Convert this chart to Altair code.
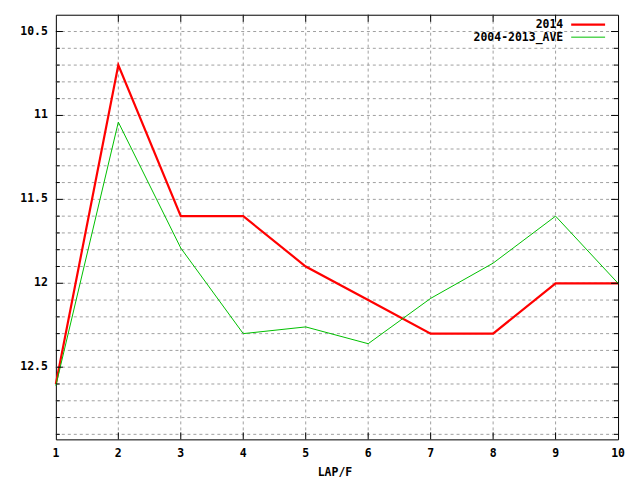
import altair as alt
import pandas as pd

# ---- data ----
laps = [1, 2, 3, 4, 5, 6, 7, 8, 9, 10]
s2014 = [12.6, 10.7, 11.6, 11.6, 11.9, 12.1, 12.3, 12.3, 12.0, 12.0]
s_ave = [12.61, 11.04, 11.79, 12.3, 12.26, 12.36, 12.09, 11.88, 11.6, 12.0]
series_names = ["2014", "2004-2013_AVE"]
series_colors = ["#ff0000", "#00c000"]
y_grid = [10.5, 10.6, 10.7, 10.8, 10.9, 11.0, 11.1, 11.2, 11.3, 11.4,
          11.5, 11.6, 11.7, 11.8, 11.9, 12.0, 12.1, 12.2, 12.3, 12.4, 12.5,
          12.6, 12.7, 12.8, 12.9]
y_major = [10.5, 11.0, 11.5, 12.0, 12.5]
y_labels = ["10.5", "11", "11.5", "12", "12.5"]
x_labels = ["1", "2", "3", "4", "5", "6", "7", "8", "9", "10"]
x_title = "LAP/F"

W, H = 564, 426
FONT = "DejaVu Sans Mono"
FS = 11.5
GRID = "#a0a0a0"

df_2014 = pd.DataFrame({"lap": laps, "t": s2014})
df_ave = pd.DataFrame({"lap": laps, "t": s_ave})
df_ygrid = pd.DataFrame({"t": y_grid})
df_ymin = pd.DataFrame({"t": [v for v in y_grid if v not in y_major]})
df_ymaj = pd.DataFrame({"t": y_major, "lab": y_labels})
df_xlab = pd.DataFrame({"lap": laps, "lab": x_labels})
df_x = pd.DataFrame({"lap": laps[1:-1]})

xs = alt.Scale(domain=[1, 10], nice=False, zero=False)
ys = alt.Scale(domain=[10.4, 12.93], reverse=True, nice=False, zero=False)

XE = alt.X("lap:Q", scale=xs, axis=None)
YE = alt.Y("t:Q", scale=ys, axis=None)

# grid lines (dotted gray)
grid_y = alt.Chart(df_ygrid).mark_rule(color=GRID, strokeDash=[3, 3], strokeWidth=1).encode(
    y=YE, x=alt.value(0), x2=alt.value(W))
grid_x = alt.Chart(df_x).mark_rule(color=GRID, strokeDash=[3, 3], strokeWidth=1).encode(
    x=XE, y=alt.value(0), y2=alt.value(H))

line_2014 = alt.Chart(df_2014).mark_line(color=series_colors[0], strokeWidth=2.2).encode(
    x=XE, y=YE)
line_ave = alt.Chart(df_ave).mark_line(color=series_colors[1], strokeWidth=1).encode(
    x=XE, y=YE)

# inward ticks (gnuplot style), mirrored on all sides
tick_l_min = alt.Chart(df_ymin).mark_rule(color="black").encode(
    y=YE, x=alt.value(0), x2=alt.value(4))
tick_r_min = alt.Chart(df_ymin).mark_rule(color="black").encode(
    y=YE, x=alt.value(W - 4), x2=alt.value(W))
tick_l_maj = alt.Chart(df_ymaj).mark_rule(color="black").encode(
    y=YE, x=alt.value(0), x2=alt.value(7))
tick_r_maj = alt.Chart(df_ymaj).mark_rule(color="black").encode(
    y=YE, x=alt.value(W - 7), x2=alt.value(W))
tick_b = alt.Chart(df_x).mark_rule(color="black").encode(
    x=XE, y=alt.value(H - 7), y2=alt.value(H))
tick_t = alt.Chart(df_x).mark_rule(color="black").encode(
    x=XE, y=alt.value(0), y2=alt.value(7))

# tick labels and axis title
txt = dict(font=FONT, fontWeight="bold", fontSize=FS, color="black")
ylab = alt.Chart(df_ymaj).mark_text(align="right", baseline="middle", **txt).encode(
    y=YE, x=alt.value(-8), text="lab:N")
xlab = alt.Chart(df_xlab).mark_text(align="center", baseline="middle", **txt).encode(
    x=XE, y=alt.value(H + 14.5), text="lab:N")
xtitle = alt.Chart(pd.DataFrame({"s": [x_title]})).mark_text(
    align="center", baseline="middle", **txt).encode(
    x=alt.value(W / 2 - 2), y=alt.value(H + 34), text="s:N")

# legend (top right, gnuplot style: label then sample)
leg_txt1 = alt.Chart(pd.DataFrame({"s": [series_names[0]]})).mark_text(
    align="right", baseline="middle", **txt).encode(
    text="s:N", x=alt.value(509), y=alt.value(10.5))
leg_txt2 = alt.Chart(pd.DataFrame({"s": [series_names[1]]})).mark_text(
    align="right", baseline="middle", **txt).encode(
    text="s:N", x=alt.value(509), y=alt.value(23))
leg_l1 = alt.Chart(pd.DataFrame({"s": [series_names[0]]})).mark_rule(
    color=series_colors[0], strokeWidth=2.2).encode(
    x=alt.value(517), x2=alt.value(551), y=alt.value(10))
leg_l2 = alt.Chart(pd.DataFrame({"s": [series_names[1]]})).mark_rule(
    color=series_colors[1], strokeWidth=1).encode(
    x=alt.value(517), x2=alt.value(551), y=alt.value(22.5))

chart = alt.layer(
    grid_y, grid_x,
    line_2014, line_ave,
    tick_l_min, tick_r_min, tick_l_maj, tick_r_maj, tick_b, tick_t,
    ylab, xlab, xtitle,
    leg_txt1, leg_txt2, leg_l1, leg_l2,
).properties(
    width=W, height=H,
    autosize=alt.AutoSizeParams(type="none"),
    padding={"left": 48, "top": 6, "right": 14, "bottom": 40},
    background="white",
).configure_view(
    stroke="black", strokeWidth=1
)

chart.save("out.html", embed_options={"renderer": "svg", "actions": False})
